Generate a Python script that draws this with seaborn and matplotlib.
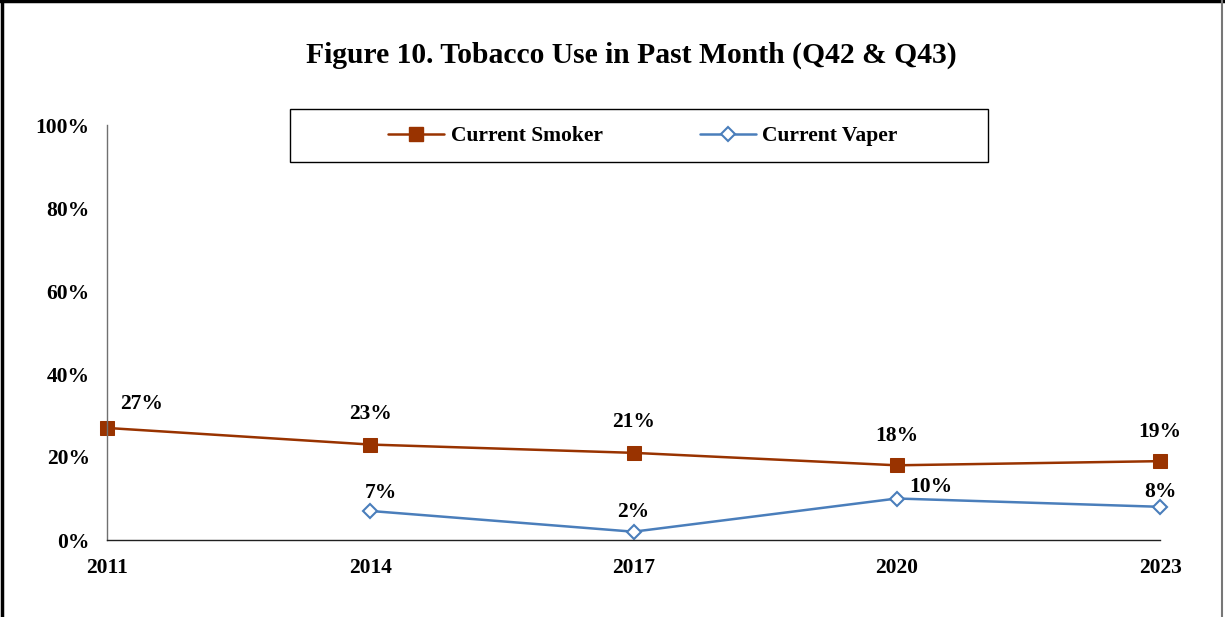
import matplotlib
matplotlib.use("Agg")
import matplotlib.pyplot as plt
import seaborn as sns
import numpy as np
import pandas as pd
from matplotlib.lines import Line2D
from matplotlib.patches import Rectangle

# ---- data ----
years = [2011, 2014, 2017, 2020, 2023]
smoker = [27, 23, 21, 18, 19]
vaper = [np.nan, 7, 2, 10, 8]
y_ticks = [0, 20, 40, 60, 80, 100]
title = "Figure 10. Tobacco Use in Past Month (Q42 & Q43)"
series_names = ["Current Smoker", "Current Vaper"]

# label offsets in pixels (style)
smoker_off = [(35, 24), (0, 31), (0, 31), (0, 29), (0, 29)]
vaper_off = [None, (11, 18), (0, 20), (34, 11), (0, 15)]

sns.set_style("white")
plt.rcParams['font.family'] = ['Liberation Serif', 'DejaVu Serif']
plt.rcParams['font.weight'] = 'bold'
plt.rcParams['text.color'] = 'black'
plt.rcParams['xtick.color'] = 'black'
plt.rcParams['ytick.color'] = 'black'
plt.rcParams['xtick.labelcolor'] = 'black'
plt.rcParams['ytick.labelcolor'] = 'black'

FS = 15.5

fig = plt.figure(figsize=(12.25, 6.17), dpi=100)
ax = fig.add_axes([107/1225, 1-540/617, (1160-107)/1225, (540-125)/617])

df = pd.DataFrame({"year": years, "Current Smoker": smoker, "Current Vaper": vaper})

c_smoke = "#993300"
c_vape = "#4A7EBB"
sns.lineplot(data=df, x="year", y="Current Smoker", ax=ax, color=c_smoke, lw=1.8,
             marker="s", markersize=10.5, markeredgecolor=c_smoke, markerfacecolor=c_smoke,
             label=series_names[0], legend=False)
dv = df.dropna()
sns.lineplot(data=dv, x="year", y="Current Vaper", ax=ax, color=c_vape, lw=1.8,
             marker="D", markersize=7, markeredgecolor=c_vape, markerfacecolor="white",
             markeredgewidth=1.5, label=series_names[1], legend=False)

ax.set_xlim(years[0], years[-1])
ax.set_ylim(0, 100)
ax.set_xticks(years)
ax.set_xticklabels([str(y) for y in years], fontsize=FS, fontweight='bold', color='black')
ax.set_yticks(y_ticks)
ax.set_yticklabels([f"{v}%" for v in y_ticks], fontsize=FS, fontweight='bold', color='black')
ax.set_xlabel("")
ax.set_ylabel("")
for s in ["top", "right"]:
    ax.spines[s].set_visible(False)
ax.spines["left"].set_color("#707070")
ax.spines["bottom"].set_color("#202020")
ax.spines["left"].set_linewidth(1.0)
ax.spines["bottom"].set_linewidth(1.0)
ax.tick_params(axis="y", direction="out", length=5, width=1, color="#707070", pad=7.5)
ax.tick_params(axis="x", direction="out", length=5, width=1, color="#404040", pad=8)
for ln in ax.lines:
    ln.set_clip_on(False)

for x, v, off in zip(years, smoker, smoker_off):
    ax.annotate(f"{v}%", (x, v), xytext=(off[0]*0.72, off[1]*0.72), textcoords="offset points",
                ha="center", va="center", fontsize=FS, fontweight="bold", color="black")
for x, v, off in zip(years, vaper, vaper_off):
    if off is None or np.isnan(v):
        continue
    ax.annotate(f"{int(v)}%", (x, v), xytext=(off[0]*0.72, off[1]*0.72), textcoords="offset points",
                ha="center", va="center", fontsize=FS, fontweight="bold", color="black")

fig.text(631/1225, 1-55/617, title, ha="center", va="center", fontsize=21.3, fontweight="bold",
         color="black")

# legend box
fig.add_artist(Rectangle((290/1225, 1-162/617), (988-290)/1225, (162-109)/617,
                         transform=fig.transFigure, fill=False, edgecolor="black", lw=1.0))
handles = [Line2D([], [], color=c_smoke, lw=1.8, marker="s", markersize=10.5, markerfacecolor=c_smoke),
           Line2D([], [], color=c_vape, lw=1.8, marker="D", markersize=7, markerfacecolor="white",
                  markeredgewidth=1.5)]
fig.legend(handles, series_names, loc="center", bbox_to_anchor=(643/1225, 1-136/617), ncol=2,
           frameon=False, prop={"size": FS, "weight": "bold"}, handlelength=2.6,
           handletextpad=0.3, columnspacing=4.5, labelcolor="black")

# figure border (top, left, right)
fig.add_artist(Line2D([0, 1], [0.999, 0.999], transform=fig.transFigure, color="black", lw=2.5))
fig.add_artist(Line2D([0.0015, 0.0015], [0, 1], transform=fig.transFigure, color="black", lw=2.5))
fig.add_artist(Line2D([1222/1225, 1222/1225], [0, 1], transform=fig.transFigure, color="#777777", lw=1.5))

fig.savefig("out.png", dpi=100)
